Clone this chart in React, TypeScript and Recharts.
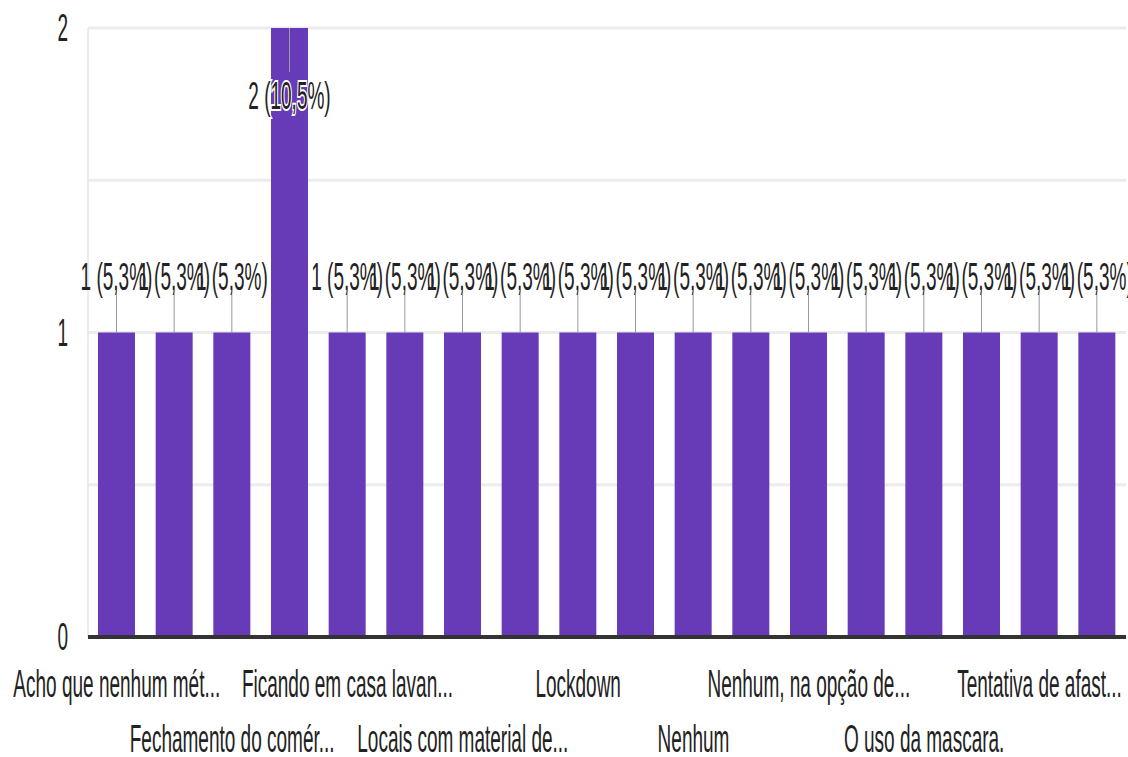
import { BarChart, Bar, XAxis, YAxis, CartesianGrid, LabelList } from "recharts";

const CATEGORIES = [
  "Acho que nenhum mét...",
  "Distanciamento so...",
  "Fechamento do comér...",
  "Fica em casa",
  "Ficando em casa lavan...",
  "Isolamento social",
  "Locais com material de...",
  "Locais públicos fe...",
  "Lockdown",
  "Máscara e álcool...",
  "Nenhum",
  "Nenhum deles",
  "Nenhum, na opção de...",
  "O isolamento social.",
  "O uso da mascara.",
  "Quarentena",
  "Tentativa de afast...",
  "Uso de máscara e...",
];
const VALUES = [1, 1, 1, 2, 1, 1, 1, 1, 1, 1, 1, 1, 1, 1, 1, 1, 1, 1];
const Y_TICKS = [0, 0.5, 1, 1.5, 2];

const TOTAL = VALUES.reduce((s, v) => s + v, 0);
const MAX = Math.max(...VALUES);
const data = CATEGORIES.map((name, i) => ({ name, value: VALUES[i] }));

const FONT = "'Liberation Sans', Arial, sans-serif";
const TEXT = "#222";
const STRETCH = 2; // the reference is stretched vertically

const XTick = ({ x, y, payload }: any) => {
  const i = CATEGORIES.indexOf(payload.value);
  const row = (i / 2) % 2;
  return (
    <text x={x} y={y + (row ? 57.5 : 30)} textAnchor="middle" fontSize={19} fill={TEXT} fontFamily={FONT}>
      {payload.value}
    </text>
  );
};

const BarLabel = (props: any) => {
  const { x, y, width, value } = props;
  const cx = x + width / 2;
  const pct = ((value / TOTAL) * 100).toFixed(1).replace(".", ",");
  const txt = `${value} (${pct}%)`;
  if (value === MAX) {
    // no room above: stem goes down into the bar
    return (
      <g>
        <line x1={cx} x2={cx} y1={y} y2={y + 22} stroke="#999" strokeWidth={1} />
        <text x={cx} y={y + 40.5} textAnchor="middle" fontSize={19} fill={TEXT} fontFamily={FONT}
          stroke="#fff" strokeWidth={2} paintOrder="stroke">
          {txt}
        </text>
      </g>
    );
  }
  return (
    <g>
      <line x1={cx} x2={cx} y1={y} y2={y - 19} stroke="#999" strokeWidth={1} />
      <text x={cx} y={y - 21} textAnchor="middle" fontSize={19} fill={TEXT} fontFamily={FONT}>
        {txt}
      </text>
    </g>
  );
};

export default function App() {
  return (
    <div style={{ position: "absolute", left: 0, top: 0, width: 1128, height: 757, overflow: "hidden", background: "#fff" }}>
      <div style={{ transform: `scaleY(${STRETCH})`, transformOrigin: "0 0" }}>
        <BarChart
          width={1128}
          height={757 / STRETCH}
          data={data}
          margin={{ top: 14, right: 2, left: 0, bottom: 0 }}
          style={{ overflow: "visible" }}
        >
          <CartesianGrid vertical={false} stroke="#ececec" strokeWidth={1.5} />
          <YAxis
            width={88}
            domain={[0, 2]}
            ticks={Y_TICKS}
            interval={0}
            tickLine={false}
            tickMargin={14}
            axisLine={{ stroke: "#e6e6e6", strokeWidth: 1.5 }}
            tick={{ fontSize: 19, fill: TEXT, fontFamily: FONT }}
            tickFormatter={(v: number) => (Number.isInteger(v) ? String(v) : "")}
          />
          <XAxis
            dataKey="name"
            interval={1}
            height={60}
            tickLine={false}
            tickSize={0}
            tickMargin={0}
            axisLine={{ stroke: "#333", strokeWidth: 2 }}
            tick={<XTick />}
          />
          <Bar dataKey="value" fill="#673ab7" barSize={37} isAnimationActive={false}>
            <LabelList dataKey="value" content={BarLabel} />
          </Bar>
        </BarChart>
      </div>
    </div>
  );
}
